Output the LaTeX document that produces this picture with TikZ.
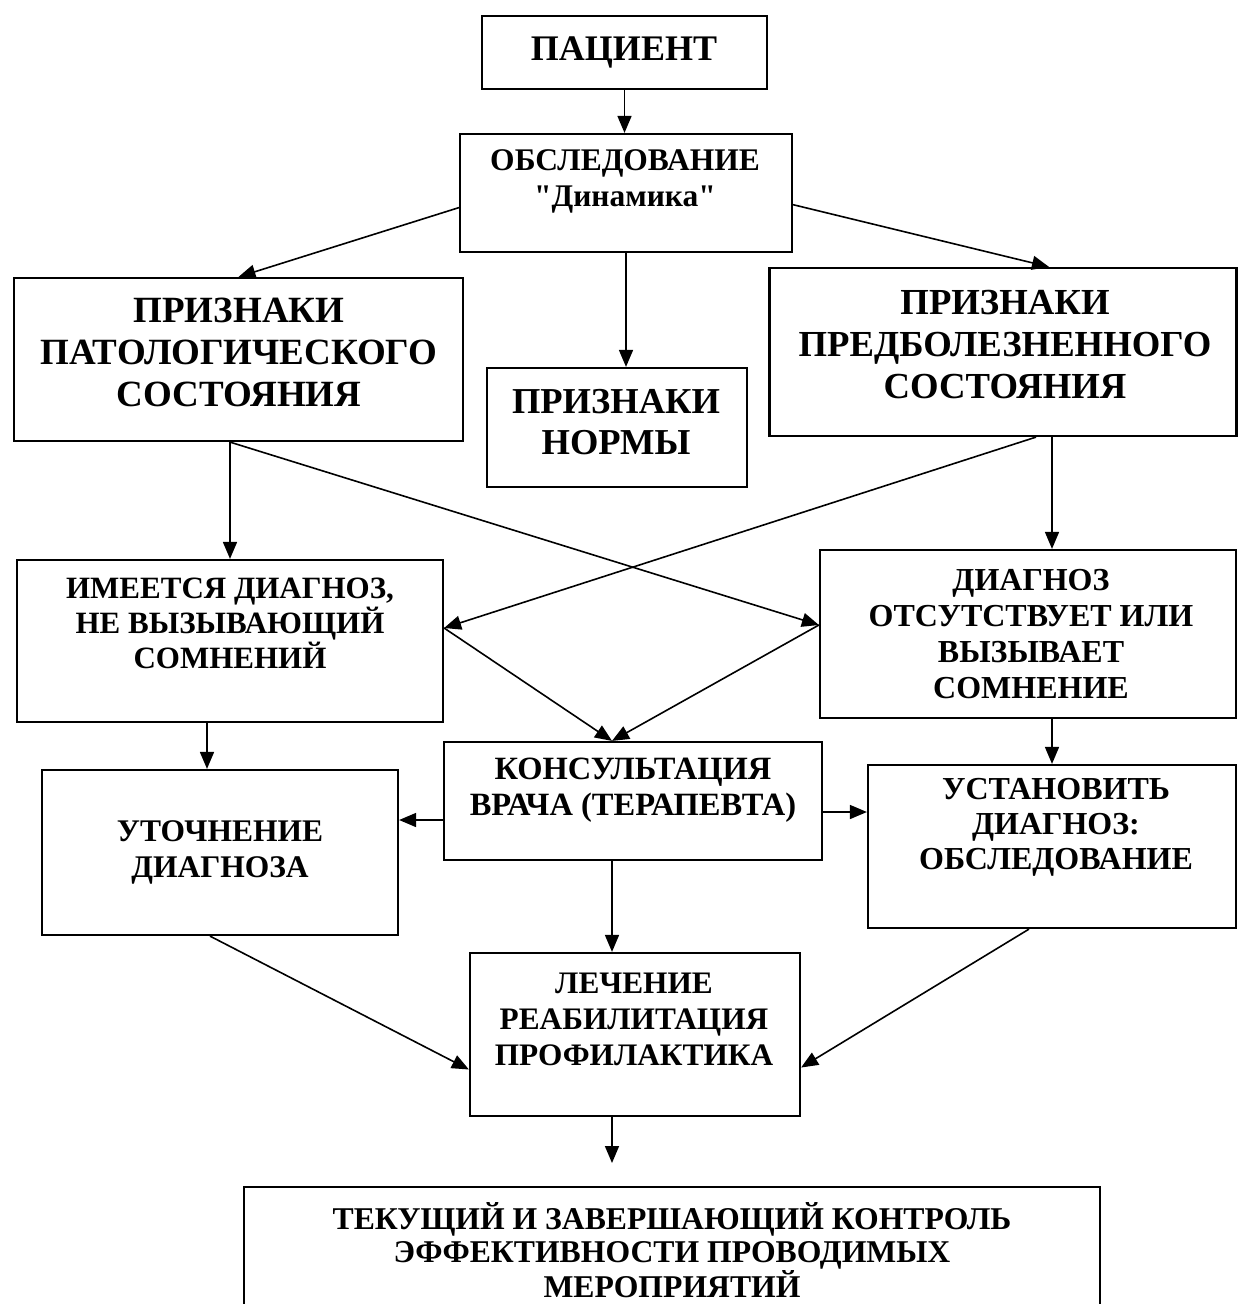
\documentclass[tikz,border=0pt]{standalone}
\usepackage{fontspec}
\setmainfont{Liberation Serif}[Ligatures=TeXOff]
\usetikzlibrary{arrows.meta}
\newcommand{\fsz}[2]{\fontsize{#1}{#2}\selectfont\bfseries}
\tikzset{
  blok/.style={draw, line width=2.2pt, inner sep=0pt},
  txt/.style={align=center, inner sep=0pt},
  strelka/.style={line width=1.6pt, -{Triangle[length=17pt,width=14pt]}},
}
\begin{document}
\begin{tikzpicture}[x=1pt, y=-1pt]
\useasboundingbox (0,0) rectangle (1238,1304);
\clip (0,0) rectangle (1238,1304);
\fill[white] (0,0) rectangle (1238,1304);
% boxes
\node[blok, minimum width=285pt, minimum height=73pt] (pac) at (624.5,52.5) {};
\node[blok, minimum width=332pt, minimum height=118pt] (obsl) at (626,193) {};
\node[blok, minimum width=449pt, minimum height=163pt] (pat) at (238.5,359.5) {};
\node[blok, minimum width=260pt, minimum height=119pt] (norm) at (617,427.5) {};
\node[blok, minimum width=467pt, minimum height=168pt] (predbol) at (1003,352) {};
\node[blok, minimum width=426pt, minimum height=162pt] (imeet) at (230,641) {};
\node[blok, minimum width=416pt, minimum height=168pt] (otsut) at (1028,634) {};
\node[blok, minimum width=378pt, minimum height=118pt] (consult) at (633,801) {};
\node[blok, minimum width=356pt, minimum height=165pt] (utoch) at (220,852.5) {};
\node[blok, minimum width=368pt, minimum height=163pt] (ustan) at (1052,846.5) {};
\node[blok, minimum width=330pt, minimum height=163pt] (lech) at (635,1034.5) {};
\node[blok, minimum width=856pt, minimum height=143pt] (tek) at (672,1258.5) {};
% texts
\node[txt, font=\fsz{36}{40}] (pac-t) at (624,52) {ПАЦИЕНТ};
\node[txt, font=\fsz{31.5}{36}] (obsl-t) at (625,181) {ОБСЛЕДОВАНИЕ\\"Динамика"};
\node[txt, font=\fsz{37}{42}] (pat-t) at (239,352) {ПРИЗНАКИ\\ПАТОЛОГИЧЕСКОГО\\СОСТОЯНИЯ};
\node[txt, font=\fsz{36.5}{41}] (norm-t) at (616,422) {ПРИЗНАКИ\\НОРМЫ};
\node[txt, font=\fsz{36.7}{42}] (predbol-t) at (1005,345) {ПРИЗНАКИ\\ПРЕДБОЛЕЗНЕННОГО\\СОСТОЯНИЯ};
\node[txt, font=\fsz{31}{35}] (imeet-t) at (230,623) {ИМЕЕТСЯ ДИАГНОЗ,\\НЕ ВЫЗЫВАЮЩИЙ\\СОМНЕНИЙ};
\node[txt, font=\fsz{32}{36}] (otsut-t) at (1031,634) {ДИАГНОЗ\\ОТСУТСТВУЕТ ИЛИ\\ВЫЗЫВАЕТ\\СОМНЕНИЕ};
\node[txt, font=\fsz{32.5}{36}] (consult-t) at (633,790) {КОНСУЛЬТАЦИЯ\\ВРАЧА (ТЕРАПЕВТА)};
\node[txt, font=\fsz{31.5}{36}] (utoch-t) at (220,852) {УТОЧНЕНИЕ\\ДИАГНОЗА};
\node[txt, font=\fsz{32}{35}] (ustan-t) at (1056,827) {УСТАНОВИТЬ\\ДИАГНОЗ:\\ОБСЛЕДОВАНИЕ};
\node[txt, font=\fsz{31.3}{36}] (lech-t) at (634,1019) {ЛЕЧЕНИЕ\\РЕАБИЛИТАЦИЯ\\ПРОФИЛАКТИКА};
\node[txt, font=\fsz{31.7}{33}] (tek-t) at (672,1250) {ТЕКУЩИЙ И ЗАВЕРШАЮЩИЙ КОНТРОЛЬ\\ЭФФЕКТИВНОСТИ ПРОВОДИМЫХ\\МЕРОПРИЯТИЙ};
% arrows
\draw[strelka] (pac.south) -- (pac.south |- obsl.north);
\draw[strelka] (obsl.185) -- (pat.north);
\draw[strelka] (obsl.-4) -- ([xshift=46pt]predbol.north);
\draw[strelka] (obsl.south) -- (obsl.south |- norm.north);
\draw[strelka] (imeet.north |- pat.south) -- (imeet.north);
\draw[strelka] (imeet.north |- pat.south) -- ([yshift=9pt]otsut.west);
\draw[strelka] ([xshift=33pt]predbol.south) -- ([yshift=13pt]imeet.east);
\draw[strelka] ([xshift=49pt]predbol.south) -- ([xshift=24pt]otsut.north);
\draw[strelka] ([yshift=13pt]imeet.east) -- ([xshift=-21pt]consult.north);
\draw[strelka] ([yshift=9pt]otsut.west) -- ([xshift=-21pt]consult.north);
\draw[strelka] ([xshift=-23pt]imeet.south) -- ([xshift=-13pt]utoch.north);
\draw[strelka] (ustan.north |- otsut.south) -- (ustan.north);
\draw[strelka] ([yshift=-19pt]consult.west) -- ([yshift=-19pt]consult.west -| utoch.east);
\draw[strelka] ([yshift=-11pt]consult.east) -- ([yshift=-11pt]consult.east -| ustan.west);
\draw[strelka] ([xshift=-21pt]consult.south) -- ([xshift=-23pt]lech.north);
\draw[strelka] ([xshift=-10pt]utoch.south) -- ([yshift=-35pt]lech.west);
\draw[strelka] ([xshift=-23pt]ustan.south) -- ([yshift=-33pt]lech.east);
\coordinate (tek-in) at (612,1163);
\draw[strelka] ([xshift=-23pt]lech.south) -- (tek-in);
\end{tikzpicture}
\end{document}
